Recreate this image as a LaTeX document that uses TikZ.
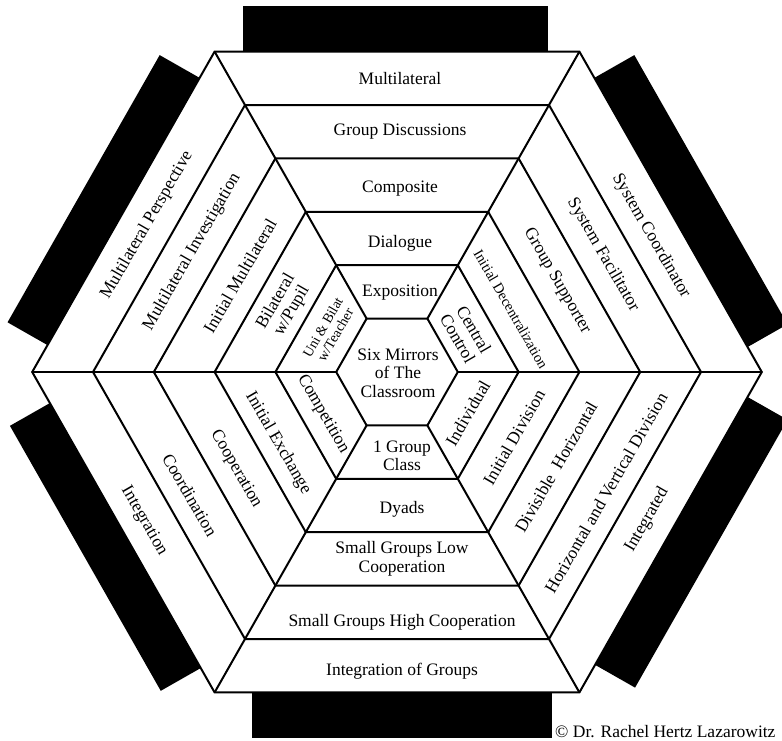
\documentclass[tikz,border=0pt]{standalone}
\usepackage{fontspec}
\setmainfont{Liberation Serif}
\usetikzlibrary{calc}
\begin{document}
\begin{tikzpicture}[x=1pt,y=-1pt,
  ring/.style={line width=2pt, line join=miter},
  bar/.style={fill=black},
  lab/.style={font=\fontsize{17.5}{18.5}\selectfont, align=center, inner sep=0pt},
  smalllab/.style={font=\fontsize{14}{14.5}\selectfont, align=center, inner sep=0pt},
]
\useasboundingbox (0,0) rectangle (782,740);
\fill[white] (0,0) rectangle (782,740);
\clip (0,0) rectangle (782,740);

% centre and ring steps (half width, half height of the innermost hexagon)
\def\cx{397}\def\cy{372}\def\R{60.8}\def\A{53.4}

% outer corners of the largest hexagon
\coordinate (TL) at ({\cx-3*\R},{\cy-6*\A});
\coordinate (TR) at ({\cx+3*\R},{\cy-6*\A});
\coordinate (RR) at ({\cx+6*\R},\cy);
\coordinate (BR) at ({\cx+3*\R},{\cy+6*\A});
\coordinate (BL) at ({\cx-3*\R},{\cy+6*\A});
\coordinate (LL) at ({\cx-6*\R},\cy);

% black bands along the six outer sides
\foreach \a/\b/\s/\e in {TL/TR/0.078/0.914, TR/RR/0.082/0.922, RR/BR/0.078/0.914,
                         BR/BL/0.075/0.897, BL/LL/0.076/0.903, LL/TL/0.084/0.918}
  \fill[bar] ($(\a)!\s!(\b)$) -- ($(\a)!\e!(\b)$)
     -- ($(\a)!\e!(\b)!46pt!90:(\b)$) -- ($(\a)!\s!(\b)!46pt!90:(\b)$) -- cycle;

% concentric hexagons
\foreach \k in {1,...,6}
  \draw[ring] ({\cx-\R*\k},\cy) -- ({\cx-\R*\k/2},{\cy-\A*\k})
     -- ({\cx+\R*\k/2},{\cy-\A*\k}) -- ({\cx+\R*\k},\cy)
     -- ({\cx+\R*\k/2},{\cy+\A*\k}) -- ({\cx-\R*\k/2},{\cy+\A*\k}) -- cycle;

% spokes through the corners
\foreach \dx/\dy in {1/0, -1/0, 0.5/1, 0.5/-1, -0.5/1, -0.5/-1}
  \draw[ring] ({\cx+\dx*\R},{\cy+\dy*\A}) -- ({\cx+6*\dx*\R},{\cy+6*\dy*\A});

% centre
\node[lab] (six) at (398,373) {Six Mirrors\\of The\\Classroom};

% top sector
\node[lab] (t1) at (400,293) {Exposition};
\node[lab] (t2) at (400,243) {Dialogue};
\node[lab] (t3) at (400,189) {Composite};
\node[lab] (t4) at (400,132) {Group Discussions};
\node[lab] (t5) at (400,79)  {Multilateral};

% bottom sector
\node[lab] (b1) at (402,456) {1 Group\\Class};
\node[lab] (b2) at (402,509) {Dyads};
\node[lab] (b3) at (402,559) {Small Groups Low\\Cooperation};
\node[lab] (b4) at (402,622) {Small Groups High Cooperation};
\node[lab] (b5) at (402,671) {Integration of Groups};

% upper right sector
\node[lab, rotate=-60] (ur1) at (466,334) {Central\\Control};
\node[smalllab, font=\fontsize{14.5}{15}\selectfont, rotate=-60] (ur2) at (511,309) {Initial Decentralization};
\node[lab, rotate=-60] (ur3) at (557,281) {Group Supporter};
\node[lab, rotate=-60] (ur4) at (603,255) {System Facilitator};
\node[lab, rotate=-60] (ur5) at (651,236) {System Coordinator};

% lower right sector
\node[lab, rotate=60] (lr1) at (468,413) {Individual};
\node[lab, rotate=60] (lr2) at (514,437) {Initial Division};
\node[lab, rotate=60] (lr3) at (556,467) {Divisible\ \ Horizontal};
\node[lab, rotate=60] (lr4) at (606,493) {Horizontal and Vertical Division};
\node[lab, rotate=60] (lr5) at (647,520) {Integrated};

% lower left sector
\node[lab, rotate=-60] (ll1) at (323,414) {Competition};
\node[lab, rotate=-60] (ll2) at (278,443) {Initial Exchange};
\node[lab, rotate=-60] (ll3) at (236,469) {Cooperation};
\node[lab, rotate=-60] (ll4) at (190,495) {Coordination};
\node[lab, rotate=-60] (ll5) at (144,521) {Integration};

% upper left sector
\node[smalllab, rotate=60] (ul1) at (329,331) {Uni \& Bilat\\w/Teacher};
\node[lab, rotate=60] (ul2) at (284,306) {Bilateral\\w/Pupil};
\node[lab, rotate=60] (ul3) at (240,276) {Initial Multilateral};
\node[lab, rotate=60] (ul4) at (192,252) {Multilateral Investigation};
\node[lab, rotate=60] (ul5) at (147,225) {Multilateral Perspective};

% credit line
\node[lab, anchor=base west] (credit) at (555,737) {\textcopyright{} Dr. Rachel Hertz Lazarowitz};
\end{tikzpicture}
\end{document}
